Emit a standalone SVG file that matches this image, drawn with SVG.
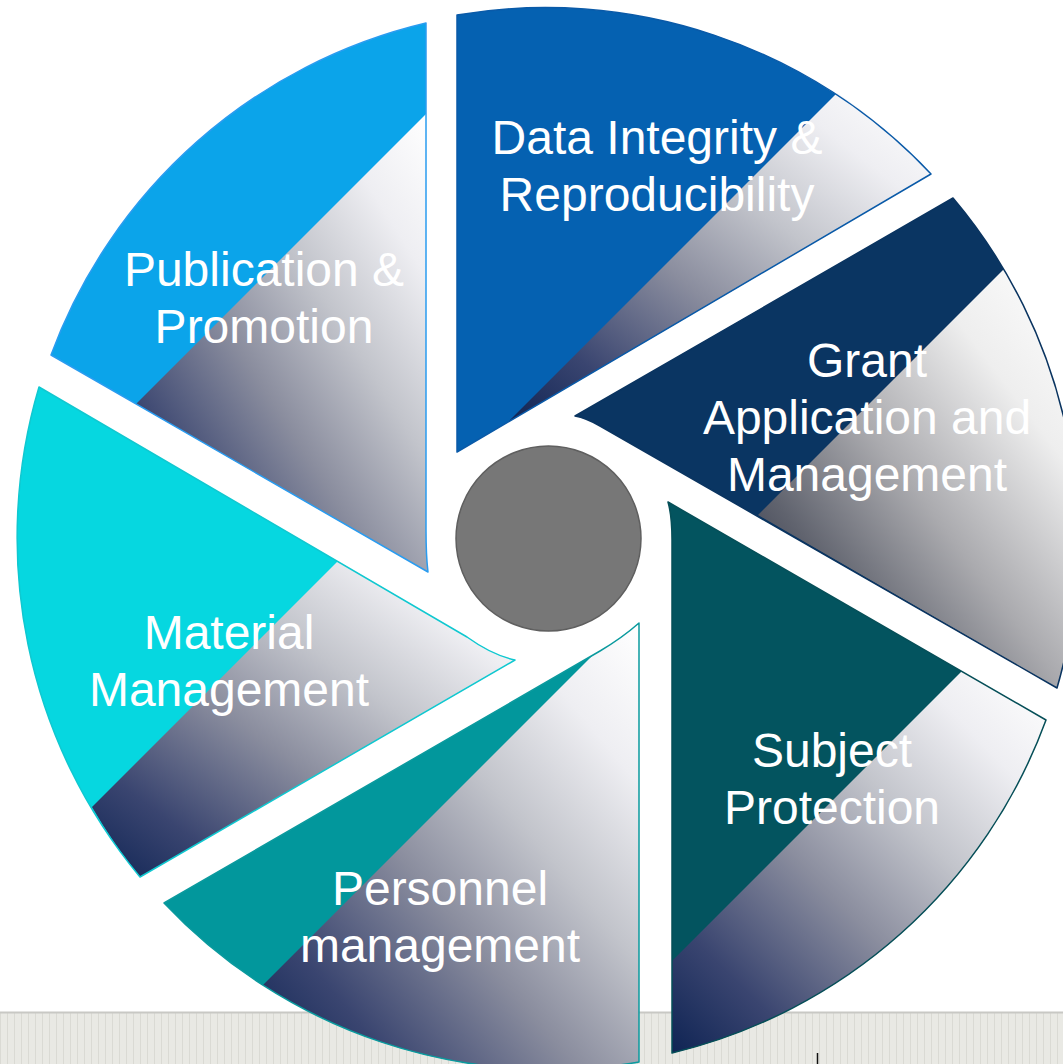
<svg xmlns="http://www.w3.org/2000/svg" width="1063" height="1064" viewBox="0 0 1063 1064">
<defs>
<style>
.lbl{font-family:"Liberation Sans",Arial,sans-serif;font-size:48px;fill:#ffffff;text-anchor:middle}
.edge{fill:none;stroke-width:1.5;stroke-linejoin:round}
.ov{fill:url(#gNavy)}
</style>
<linearGradient id="gNavy" x1="0" y1="1" x2="1" y2="0">
<stop offset="0" stop-color="#0f2454"/>
<stop offset="0.18" stop-color="#3a4570"/>
<stop offset="0.42" stop-color="#8a8d9e"/>
<stop offset="0.62" stop-color="#c2c4cb"/>
<stop offset="0.82" stop-color="#eeeef2"/>
<stop offset="1" stop-color="#ffffff"/>
</linearGradient>
<linearGradient id="gGray" x1="0" y1="1" x2="1" y2="0">
<stop offset="0" stop-color="#1c2236"/>
<stop offset="0.25" stop-color="#60636e"/>
<stop offset="0.48" stop-color="#aaaaae"/>
<stop offset="0.75" stop-color="#eeeeee"/>
<stop offset="1" stop-color="#ffffff"/>
</linearGradient>
<pattern id="stripes" width="7" height="10" patternUnits="userSpaceOnUse">
<rect width="7" height="10" fill="#e9e9e4"/>
<rect x="0" width="1" height="10" fill="#dadad4"/>
</pattern>
</defs>
<rect width="1063" height="1064" fill="#ffffff"/>
<g id="bottom-strip">
<rect x="0" y="1012" width="1063" height="52" fill="url(#stripes)"/>
<line x1="0" y1="1012.5" x2="1063" y2="1012.5" stroke="#c8c8c4" stroke-width="2"/>
<line x1="817.5" y1="1053" x2="817.5" y2="1064" stroke="#111111" stroke-width="1.5"/>
</g>
<g id="connectors"></g>
<g id="node-data">
<path d="M457,452 L457,15 A530,530 0 0 1 931,174 Z" fill="#0561b1"/>
<path class="ov" d="M508,422 L837,93 A530,530 0 0 1 931,174 Z"/>
<path class="edge" stroke="#0a5aa8" d="M457,452 L457,15 A530,530 0 0 1 931,174 Z"/>
<text class="lbl" x="657" y="154">Data Integrity &amp;</text>
<text class="lbl" x="657" y="211">Reproducibility</text>
</g>
<g id="node-grant">
<path d="M575,416 L953,198 A530,530 0 0 1 1057,688 L600,426 Q586,418 575,416 Z" fill="#0a3562"/>
<path fill="url(#gGray)" d="M758,515 L1004,269 A530,530 0 0 1 1057,688 Z"/>
<path class="edge" stroke="#0a3460" d="M575,416 L953,198 A530,530 0 0 1 1057,688 L600,426 Q586,418 575,416 Z"/>
<text class="lbl" x="867" y="377">Grant</text>
<text class="lbl" x="867" y="434">Application and</text>
<text class="lbl" x="867" y="491">Management</text>
</g>
<g id="node-subject">
<path d="M668,502 L1046,720 A530,530 0 0 1 672,1053 L672,540 Q672,516 668,502 Z" fill="#03545f"/>
<path class="ov" d="M672,961 L962,671 L1046,720 A530,530 0 0 1 672,1053 Z"/>
<path class="edge" stroke="#064f58" d="M668,502 L1046,720 A530,530 0 0 1 672,1053 L672,540 Q672,516 668,502 Z"/>
<text class="lbl" x="832" y="767">Subject</text>
<text class="lbl" x="832" y="824">Protection</text>
</g>
<g id="node-personnel">
<path d="M639,623 L639,1062 A530,530 0 0 1 164,903 L600,651 Q622,638 639,623 Z" fill="#02979c"/>
<path class="ov" d="M263,985 L593,655 L600,651 Q622,638 639,623 L639,1062 A530,530 0 0 1 263,985 Z"/>
<path class="edge" stroke="#0b9a9e" d="M639,623 L639,1062 A530,530 0 0 1 164,903 L600,651 Q622,638 639,623 Z"/>
<text class="lbl" x="440" y="905">Personnel</text>
<text class="lbl" x="440" y="962">management</text>
</g>
<g id="node-material">
<path d="M515,660 L140,877 A530,530 0 0 1 39,387 L467,637 Q492,655 515,660 Z" fill="#06d7e0"/>
<path class="ov" d="M92,807 L338,561 L467,637 Q492,655 515,660 L140,877 A530,530 0 0 1 92,807 Z"/>
<path class="edge" stroke="#10c8d0" d="M515,660 L140,877 A530,530 0 0 1 39,387 L467,637 Q492,655 515,660 Z"/>
<text class="lbl" x="229" y="649">Material</text>
<text class="lbl" x="229" y="706">Management</text>
</g>
<g id="node-publication">
<path d="M428,572 L51,355 A530,530 0 0 1 426,23 L426,530 Q426,556 428,572 Z" fill="#0ba4ea"/>
<path class="ov" d="M136,404 L426,114 L426,530 Q426,556 428,572 Z"/>
<path class="edge" stroke="#2a9cf0" d="M428,572 L51,355 A530,530 0 0 1 426,23 L426,530 Q426,556 428,572 Z"/>
<text class="lbl" x="264" y="286">Publication &amp;</text>
<text class="lbl" x="264" y="343">Promotion</text>
</g>
<g id="node-hub">
<circle cx="548.5" cy="538.5" r="92.5" fill="#777777" stroke="#5f5f5f" stroke-width="1.5"/>
</g>
</svg>
